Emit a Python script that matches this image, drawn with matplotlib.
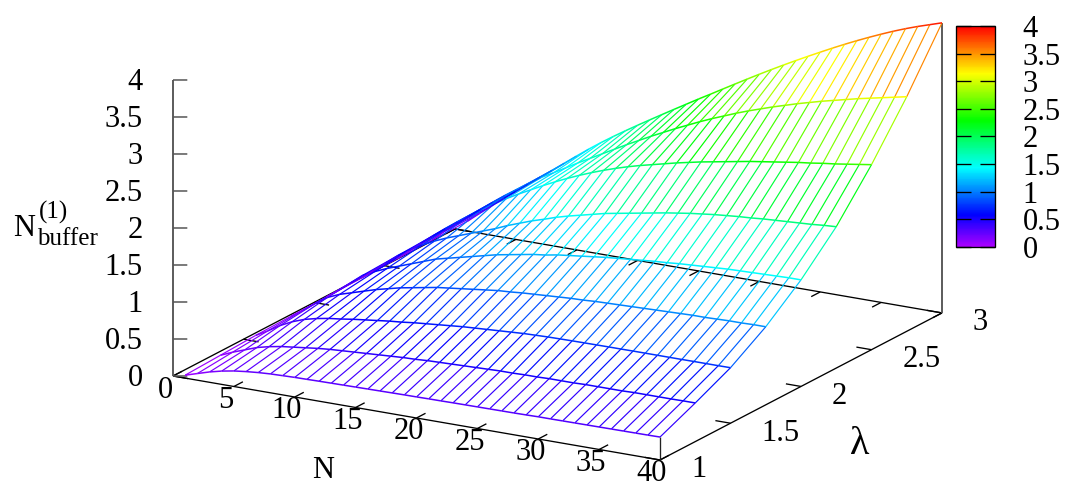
import numpy as np
import matplotlib
matplotlib.use('Agg')
import matplotlib.pyplot as plt
from matplotlib.cm import ScalarMappable
from matplotlib.colors import LinearSegmentedColormap, Normalize
from mpl_toolkits.mplot3d import proj3d
from mpl_toolkits.mplot3d.art3d import Line3DCollection

plt.rcParams['font.family'] = 'Liberation Serif'

# ---- data ----
n_values = list(range(1, 41))
lambda_values = [1.0, 1.25, 1.5, 1.75, 2.0, 2.25, 2.5, 2.75, 3.0]

z_l100 = [.04,.09,.14,.18,.21,.23,.245,.255,.26,.265,.267,.27,.272,.274,.276,.278,.28,.282,.284,.285,
          .287,.288,.29,.291,.292,.293,.294,.295,.297,.30,.30,.301,.302,.303,.304,.305,.306,.307,.308,.31]
z_l125 = [.06,.13,.19,.25,.29,.32,.34,.36,.38,.395,.405,.415,.425,.435,.445,.455,.46,.47,.475,.48,
          .485,.49,.495,.50,.50,.505,.505,.51,.51,.51,.515,.515,.515,.515,.52,.52,.52,.52,.522,.522]
z_l150 = [.08,.17,.27,.35,.41,.45,.48,.50,.525,.545,.565,.585,.60,.62,.635,.65,.665,.68,.69,.70,
          .71,.72,.73,.735,.74,.742,.744,.745,.746,.747,.747,.748,.748,.748,.748,.748,.749,.749,.749,.75]
z_l175 = [.09,.20,.32,.43,.50,.55,.60,.65,.69,.73,.76,.79,.82,.84,.86,.88,.90,.92,.93,.945,
          .955,.965,.975,.985,.99,1.0,1.005,1.01,1.015,1.02,1.025,1.03,1.035,1.04,1.04,1.045,1.05,1.05,1.055,1.055]
z_l200 = [.10,.22,.35,.48,.56,.63,.69,.75,.81,.87,.91,.95,.99,1.03,1.07,1.10,1.13,1.16,1.18,1.21,
          1.23,1.25,1.27,1.29,1.305,1.32,1.335,1.35,1.36,1.375,1.385,1.395,1.405,1.415,1.42,1.425,1.43,1.435,1.44,1.44]
z_l225 = [.11,.24,.37,.50,.61,.70,.78,.85,.91,.97,1.03,1.09,1.16,1.22,1.28,1.33,1.385,1.43,1.47,1.51,
          1.55,1.58,1.61,1.64,1.67,1.70,1.725,1.75,1.77,1.79,1.805,1.82,1.83,1.845,1.855,1.865,1.875,1.885,1.90,1.91]
z_l250 = [.12,.255,.39,.52,.645,.765,.88,.99,1.09,1.19,1.28,1.365,1.45,1.53,1.605,1.675,1.74,1.80,1.855,1.905,
          1.95,1.99,2.03,2.07,2.105,2.14,2.17,2.20,2.23,2.26,2.285,2.31,2.335,2.36,2.38,2.405,2.425,2.45,2.475,2.50]
z_l275 = [.125,.27,.40,.53,.655,.78,.90,1.01,1.12,1.23,1.32,1.415,1.51,1.60,1.69,1.78,1.87,1.955,2.04,2.12,
          2.20,2.275,2.35,2.42,2.485,2.55,2.61,2.665,2.72,2.77,2.82,2.865,2.91,2.95,2.99,3.03,3.065,3.10,3.135,3.17]
z_l300 = [.13,.265,.395,.525,.65,.775,.90,1.02,1.145,1.27,1.392,1.508,1.618,1.724,1.827,1.928,2.028,2.127,2.225,2.323,
          2.418,2.515,2.611,2.706,2.80,2.892,2.982,3.07,3.156,3.24,3.323,3.403,3.48,3.554,3.625,3.693,3.756,3.814,3.867,3.92]

n_ticks = [0, 5, 10, 15, 20, 25, 30, 35, 40]
lambda_ticks = [1, 1.5, 2, 2.5, 3]
lambda_labels = ['1', '1.5', '2', '2.5', '3']
z_ticks = [0, 0.5, 1, 1.5, 2, 2.5, 3, 3.5, 4]
z_labels = ['0', '0.5', '1', '1.5', '2', '2.5', '3', '3.5', '4']

# ---- style ----
W, H = 1072, 497
FS = 22
BLACK_LW = 0.95
GRAY = '#555555'

fig = plt.figure(figsize=(W / 100, H / 100), dpi=100)
ax = fig.add_axes([0, 0, 1, 1], projection='3d', proj_type='ortho', computed_zorder=False)
ax.view_init(elev=17.45, azim=-60.1)
ax.set_box_aspect((561.8, 565.7, 310.3))
ax.set_xlim(0, 40, view_margin=0)
ax.set_ylim(1, 3, view_margin=0)
ax.set_zlim(0, 4, view_margin=0)
ax.set_axis_off()

cmap = LinearSegmentedColormap.from_list('hue', [
    (0, (2 / 3, 0, 1)), (40 / 280, (0, 0, 1)), (100 / 280, (0, 1, 1)),
    (160 / 280, (0, 1, 0)), (220 / 280, (1, 1, 0)), (1, (1, 0, 0))])
norm = Normalize(0, 4)


def to_pixels(x, y, z):
    ax.apply_aspect()
    x2, y2, _ = proj3d.proj_transform(x, y, z, ax.get_proj())
    return ax.transData.transform((x2, y2))


# Fit the projected box onto the reference's pixel positions.
target_a = np.array([173.0, H - 376.0])
target_b = np.array([942.0, H - 313.0])
side = 700.0
cx, cy = W / 2, H / 2
for _ in range(4):
    ax.set_position([(cx - side / 2) / W, (cy - side / 2) / H, side / W, side / H])
    a = to_pixels(0, 1, 0)
    b = to_pixels(40, 3, 0)
    side *= np.linalg.norm(target_b - target_a) / np.linalg.norm(b - a)
    ax.set_position([(cx - side / 2) / W, (cy - side / 2) / H, side / W, side / H])
    a = to_pixels(0, 1, 0)
    cx += target_a[0] - a[0]
    cy += target_a[1] - a[1]
ax.set_position([(cx - side / 2) / W, (cy - side / 2) / H, side / W, side / H])


def black(xs, ys, zs, color='black', lw=BLACK_LW, zorder=1):
    ax.plot(xs, ys, zs, color=color, lw=lw, zorder=zorder, solid_capstyle='butt')


def label(x, y, z, text, dx, dy, ha='center'):
    x2, y2, _ = proj3d.proj_transform(x, y, z, ax.get_proj())
    ax.annotate(text, xy=(x2, y2), xycoords='data', xytext=(dx, -dy),
                textcoords='offset pixels', ha=ha, va='center', fontsize=FS,
                annotation_clip=False)


# base frame
black([0, 40], [1, 1], [0, 0])
black([40, 40], [1, 3], [0, 0])
black([0, 40], [3, 3], [0, 0])
black([0, 0], [1, 3], [0, 0])

# tick marks, fractions of the other axis' span
TICK_N = 0.032 * 2
TICK_L = 0.031 * 40
for n in n_ticks:
    black([n, n], [1, 1 + TICK_N], [0, 0])
    black([n, n], [3, 3 - TICK_N], [0, 0])
    label(n, 1, 0, str(n), -8, 14)
for v, txt in zip(lambda_ticks, lambda_labels):
    black([40, 40 - TICK_L], [v, v], [0, 0])
    black([0, TICK_L], [v, v], [0, 0])
    label(40, v, 0, txt, 31, 10, ha='left')

# vertical edges and z ticks
black([0, 0], [1, 1], [0, 4], color=GRAY, lw=1.35)
black([40, 40], [3, 3], [0, z_l300[-1]], color=GRAY, lw=1.35)
black([40, 40], [1, 1], [0, z_l100[-1]], color='#222222', lw=BLACK_LW)
for v, txt in zip(z_ticks, z_labels):
    black([0, 0.883], [1, 1.0252], [v, v], color=GRAY, lw=1.1)
    label(0, 1, v, txt, -30, 2.5, ha='right')

# surface grid, one colour per segment from its mean height
Z = np.array([z_l100, z_l125, z_l150, z_l175, z_l200, z_l225, z_l250, z_l275, z_l300])
Ns = np.array(n_values, dtype=float)
Ls = np.array(lambda_values)

hatch_seg, hatch_col = [], []
for j, n in enumerate(Ns):
    for i in range(len(Ls) - 1):
        hatch_seg.append([(n, Ls[i], Z[i, j]), (n, Ls[i + 1], Z[i + 1, j])])
        hatch_col.append(cmap(norm((Z[i, j] + Z[i + 1, j]) / 2)))
curve_seg, curve_col = [], []
for i, v in enumerate(Ls):
    for j in range(len(Ns) - 1):
        curve_seg.append([(Ns[j], v, Z[i, j]), (Ns[j + 1], v, Z[i, j + 1])])
        curve_col.append(cmap(norm((Z[i, j] + Z[i, j + 1]) / 2)))

hatch = Line3DCollection(hatch_seg, colors=hatch_col, linewidths=0.85, zorder=2)
curves = Line3DCollection(curve_seg, colors=curve_col, linewidths=1.1, zorder=3)
ax.add_collection3d(hatch, autolim=False)
ax.add_collection3d(curves, autolim=False)

# axis titles
def figtext(x, y, s, size=FS, ha='center', va='center'):
    fig.text(x / W, 1 - y / H, s, fontsize=size, ha=ha, va=va)


figtext(323, 470, 'N')
figtext(860, 445, 'λ', size=29)
figtext(13, 229, 'N', ha='left')
figtext(37, 239, 'buffer', size=18, ha='left')
figtext(39, 212, '(1)', size=18, ha='left')

# colour box
cax = fig.add_axes([956 / W, 1 - 246.7 / H, 39 / W, 220.7 / H])
cb = fig.colorbar(ScalarMappable(norm=norm, cmap=cmap), cax=cax, ticks=z_ticks)
cb.outline.set_linewidth(BLACK_LW)
cb.set_ticklabels(z_labels)
cax.tick_params(left=True, right=True, direction='in', length=10.5, width=BLACK_LW,
                labelsize=FS, pad=20)

fig.savefig('out.png', dpi=100)
